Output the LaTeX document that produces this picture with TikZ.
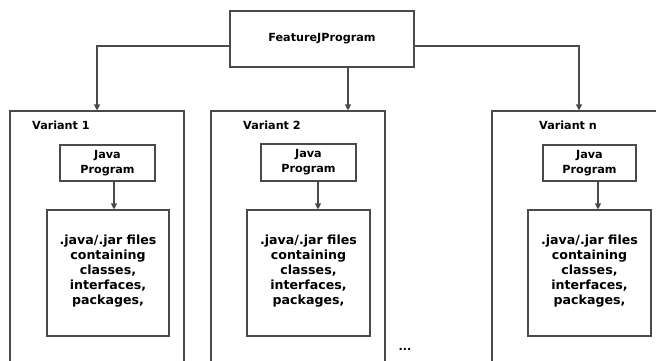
\documentclass[tikz,border=0pt]{standalone}
\usepackage{fontspec}
\setmainfont{DejaVu Sans}
\usetikzlibrary{arrows.meta}
\definecolor{linec}{HTML}{4A4A4A}
\begin{document}
\begin{tikzpicture}[x=1pt,y=-1pt,
  every node/.style={font=\fontsize{11.2}{15}\selectfont\bfseries, text=black},
  box/.style={draw=linec, line width=1.1pt, rectangle, inner sep=0pt, align=center},
  frame/.style={draw=linec, line width=1.1pt, rectangle, inner sep=0pt},
  arr/.style={draw=linec, line width=1.1pt, -{Triangle[length=6pt,width=6pt]}},
  lbl/.style={anchor=west, inner sep=0pt},
  filetext/.style={align=center, inner sep=0pt, font=\fontsize{12.6}{15.2}\selectfont\bfseries}]
\useasboundingbox (0,0) rectangle (656,360);
\clip (0,0) rectangle (656,360);
% top
\node[box, minimum width=184pt, minimum height=56pt] (top) at (322,39) {FeatureJProgram};
% variant frames (bottom cut off)
\node[frame, minimum width=174pt, minimum height=280pt] (v1) at (97,251) {};
\node[frame, minimum width=174pt, minimum height=280pt] (v2) at (298,251) {};
\node[frame, minimum width=174pt, minimum height=280pt] (vn) at (579,251) {};
% labels
\node[lbl] (l1) at (32,125) {Variant 1};
\node[lbl] (l2) at (243,125) {Variant 2};
\node[lbl] (ln) at (539,125) {Variant n};
% java program boxes
\node[box, minimum width=95pt, minimum height=36pt] (j1) at (107.5,163) {Java\\Program};
\node[box, minimum width=95pt, minimum height=37pt] (j2) at (308.5,162.5) {Java\\Program};
\node[box, minimum width=93pt, minimum height=36pt] (jn) at (589.5,163) {Java\\Program};
% files boxes
\node[box, minimum width=122pt, minimum height=126pt] (f1) at (108,273) {};
\node[box, minimum width=123pt, minimum height=126pt] (f2) at (308.5,273) {};
\node[box, minimum width=123pt, minimum height=126pt] (fn) at (589.5,273) {};
\node[filetext] (t1) at ([yshift=2pt]f1.center) {.java/.jar files\\containing\\classes,\\interfaces,\\packages,};
\node[filetext] (t2) at ([yshift=2pt]f2.center) {.java/.jar files\\containing\\classes,\\interfaces,\\packages,};
\node[filetext] (tn) at ([yshift=2pt]fn.center) {.java/.jar files\\containing\\classes,\\interfaces,\\packages,};
% dots
\node[inner sep=0pt] (dots) at (405,349) {...};
% connectors from top
\draw[arr] ([yshift=-7pt]top.west) -| (v1.north);
\draw[arr] ([xshift=26pt]top.south) -- ([xshift=26pt]top.south |- v2.north);
\draw[arr] ([yshift=-7pt]top.east) -| (vn.north);
% java -> files
\draw[arr] ([xshift=6.5pt]j1.south) -- ([xshift=6.5pt]j1.south |- f1.north);
\draw[arr] ([xshift=9.5pt]j2.south) -- ([xshift=9.5pt]j2.south |- f2.north);
\draw[arr] ([xshift=8.5pt]jn.south) -- ([xshift=8.5pt]jn.south |- fn.north);
\end{tikzpicture}
\end{document}
